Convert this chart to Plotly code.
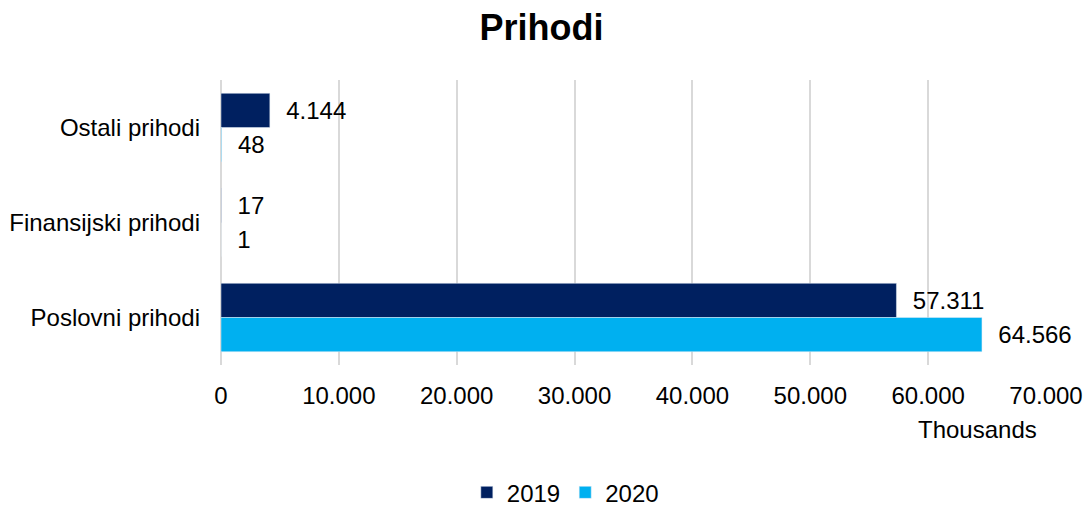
import plotly.graph_objects as go

categories = ["Ostali prihodi", "Finansijski prihodi", "Poslovni prihodi"]
values_2019 = [4144, 17, 57311]
values_2020 = [48, 1, 64566]
tick_values = [0, 10000, 20000, 30000, 40000, 50000, 60000, 70000]

pad = "\u00a0\u00a0"


def fmt(v):
    return pad + f"{v:,}".replace(",", ".")


fig = go.Figure()
fig.add_trace(go.Bar(
    y=categories, x=values_2019, name="2019", orientation="h",
    marker=dict(color="#002060"),
    text=[fmt(v) for v in values_2019],
    textposition="outside", cliponaxis=False,
    textfont=dict(size=24, color="#000000"),
))
fig.add_trace(go.Bar(
    y=categories, x=values_2020, name="2020", orientation="h",
    marker=dict(color="#00B0F0"),
    text=[fmt(v) for v in values_2020],
    textposition="outside", cliponaxis=False,
    textfont=dict(size=24, color="#000000"),
))

fig.update_layout(
    width=1083, height=508,
    barmode="group", bargap=0.28, bargroupgap=0,
    separators=",.",
    font=dict(family="Liberation Sans, Arial, sans-serif", size=24, color="#000000"),
    title=dict(text="<b>Prihodi</b>", x=0.5, xanchor="center", y=0.947,
               yanchor="middle", font=dict(size=36)),
    plot_bgcolor="white", paper_bgcolor="white",
    margin=dict(l=221, r=37, t=80, b=143),
    showlegend=True,
    legend=dict(orientation="h", x=0.522, xref="container", xanchor="center",
                y=0.03, yref="container", yanchor="middle",
                font=dict(size=24), itemwidth=30, traceorder="normal"),
)
fig.update_xaxes(
    range=[0, 70000], tickvals=tick_values, tickformat=",d",
    showgrid=True, gridcolor="#d9d9d9", gridwidth=1.5,
    zeroline=True, zerolinecolor="#d9d9d9", zerolinewidth=1.5,
    showline=False, ticks="", ticklen=0, ticklabelstandoff=14,
    ticklabeloverflow="allow", automargin=False,
)
fig.update_yaxes(
    autorange="reversed", showgrid=False, showline=False, ticks="",
    ticklabelstandoff=20, automargin=False,
)
fig.add_annotation(
    text="Thousands", xref="paper", yref="paper", x=0.992, y=-0.228,
    xanchor="right", yanchor="middle", showarrow=False, font=dict(size=24),
)

# drop the default 8px page margin so the figure fills the window
fig.write_html("out.html", config={"displayModeBar": False},
               post_script="document.body.style.margin = '0';")
